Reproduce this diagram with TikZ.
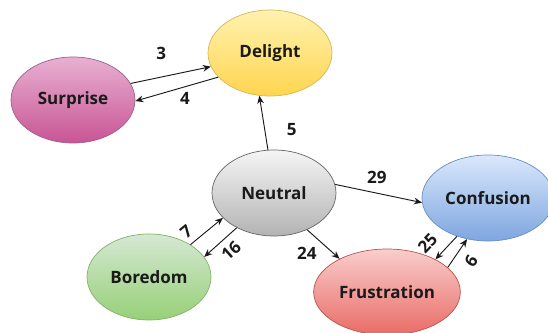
\documentclass[tikz,border=0pt]{standalone}
\usepackage{fontspec}
\setmainfont{Open Sans}
\usetikzlibrary{arrows.meta,shapes.geometric}
\definecolor{yeltop}{HTML}{FFF2B0}
\definecolor{yelbot}{HTML}{FFD54F}
\definecolor{yelline}{HTML}{D6B656}
\definecolor{pinktop}{HTML}{E8B0D2}
\definecolor{pinkbot}{HTML}{C95595}
\definecolor{pinkline}{HTML}{996185}
\definecolor{graytop}{HTML}{F5F5F5}
\definecolor{graybot}{HTML}{B3B3B3}
\definecolor{grayline}{HTML}{666666}
\definecolor{bluetop}{HTML}{DAE8FC}
\definecolor{bluebot}{HTML}{7EA6E0}
\definecolor{blueline}{HTML}{6C8EBF}
\definecolor{redtop}{HTML}{F8CECC}
\definecolor{redbot}{HTML}{EA6B66}
\definecolor{redline}{HTML}{B85450}
\definecolor{greentop}{HTML}{D5E8D4}
\definecolor{greenbot}{HTML}{97D077}
\definecolor{greenline}{HTML}{82B366}
\definecolor{inkdark}{HTML}{1A1A1A}

\begin{document}
\begin{tikzpicture}[>={Stealth[length=2.4mm,width=2mm]},
emo/.style={ellipse,minimum width=3.72cm,minimum height=2.58cm,line width=.6pt,text=inkdark,font=\fontsize{14.5}{17}\selectfont\bfseries},
yel/.style={emo,draw=yelline,top color=yeltop,bottom color=yelbot},
pink/.style={emo,draw=pinkline,top color=pinktop,bottom color=pinkbot},
grey/.style={emo,draw=grayline,top color=graytop,bottom color=graybot},
blu/.style={emo,draw=blueline,top color=bluetop,bottom color=bluebot},
rd/.style={emo,draw=redline,top color=redtop,bottom color=redbot},
grn/.style={emo,draw=greenline,top color=greentop,bottom color=greenbot},
flow/.style={->,line width=.8pt,draw=inkdark},
lab/.style={font=\fontsize{14.5}{17}\selectfont\bfseries,text=inkdark,inner sep=0pt}]
\useasboundingbox (0,0) rectangle (16.44,-9.99);
\node[yel] (del) at (8.10,-1.59) {Delight};
\node[pink] (sur) at (2.19,-3.00) {Surprise};
\node[grey] (neu) at (8.22,-5.79) {Neutral};
\node[blu] (con) at (14.64,-5.94) {Confusion};
\node[rd] (fru) at (11.61,-8.76) {Frustration};
\node[grn] (bor) at (4.47,-8.31) {Boredom};
\draw[flow] (sur.16)--(del.193) node[pos=.38,above=5mm,lab] {3};
\draw[flow] (del.205)--(sur.359) node[pos=.4,below=1.5mm,lab] {4};
\draw[flow] (neu.98)--(del.256) node[pos=.38,right=6.5mm,lab] {5};
\draw[flow] (neu.8)--(con.184) node[pos=.48,above=2.8mm,lab] {29};
\draw[flow] (neu.312)--(fru.145) node[pos=.8,left=4.8mm,lab] {24};
\draw[flow] (bor.38)--(neu.206) node[pos=.12,sloped,above=1.8mm,lab] {7};
\draw[flow] (neu.223)--(bor.20) node[pos=.45,sloped,below=2mm,lab] {16};
\draw[flow] (con.231)--(fru.34) node[pos=.8,sloped,above=3mm,lab] {25};
\draw[flow] (fru.22)--(con.243) node[pos=.53,sloped,below=2.8mm,lab] {6};
\end{tikzpicture}
\end{document}
